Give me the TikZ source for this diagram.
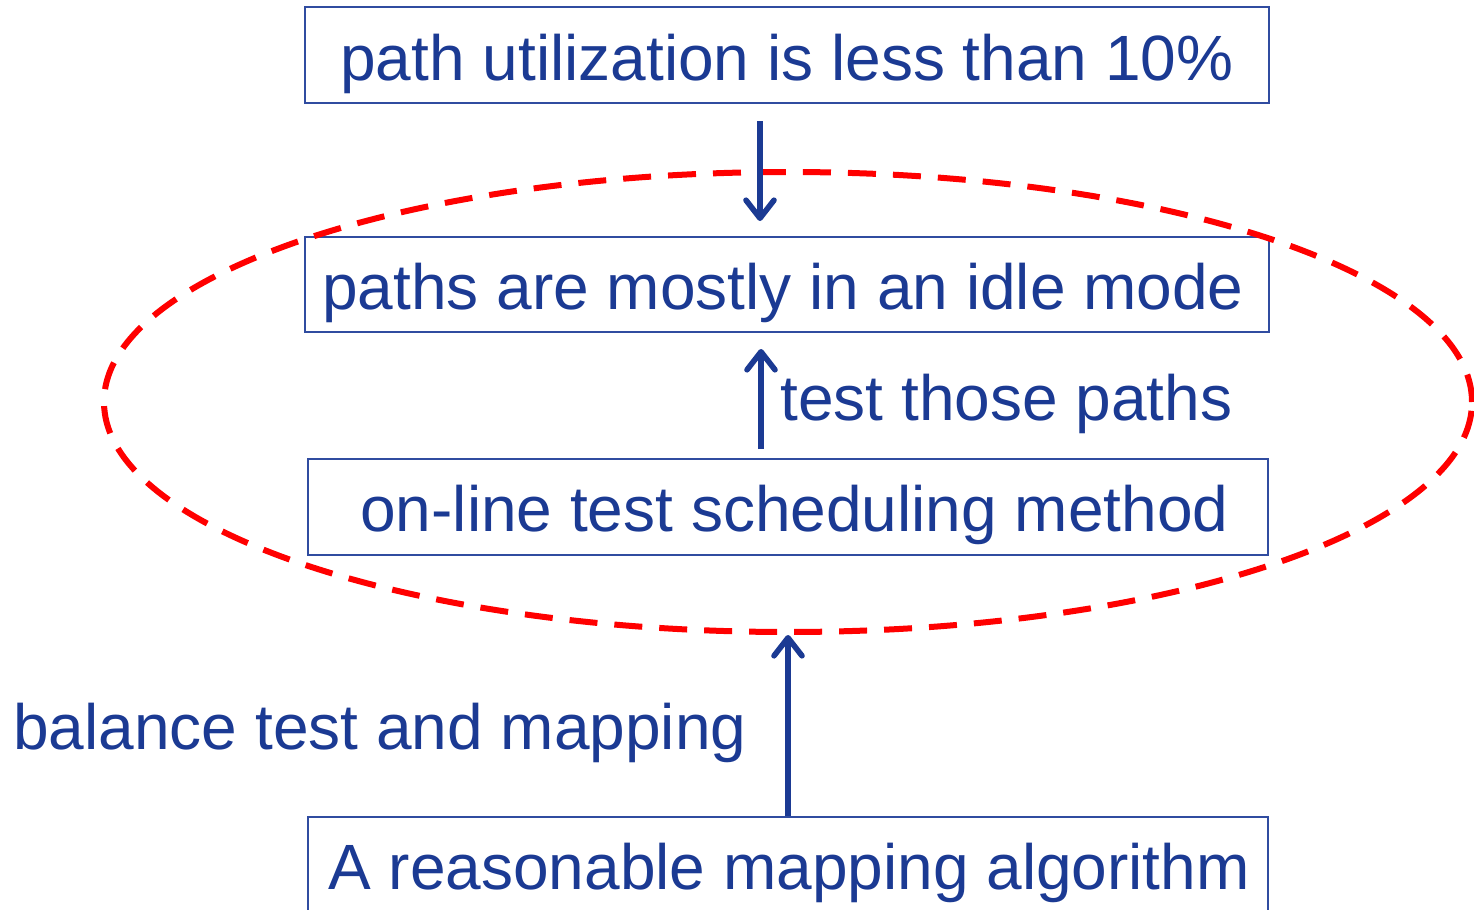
\documentclass[tikz,border=0pt]{standalone}
\usepackage{fontspec}
\setmainfont{Liberation Sans}
\usetikzlibrary{arrows.meta,shapes.geometric}
\definecolor{navy}{RGB}{27,58,147}
\definecolor{frame}{RGB}{48,76,160}
\definecolor{loopred}{RGB}{255,0,0}
\tikzset{
  box/.style={draw=frame, line width=1pt, inner sep=0pt, rectangle},
  txt/.style={text=navy, inner sep=0pt, anchor=base west,
    font=\fontsize{32}{38}\selectfont},
  arr/.style={draw=navy, line width=2.8pt,
    -{Straight Barb[length=9pt,width=14pt,round]}},
  loop/.style={draw=loopred, line width=3pt, ellipse, inner sep=0pt,
    dash pattern=on 14pt off 8.5pt}
}
\begin{document}
\begin{tikzpicture}[x=0.5pt,y=-0.5pt]
  \useasboundingbox (0,0) rectangle (1474,910);
  \clip (0,0) rectangle (1474,910);
  \fill[white] (0,0) rectangle (1474,910);

  % boxes
  \node[box, minimum width=482pt, minimum height=48pt] (b1) at (787,55) {};
  \node[box, minimum width=482pt, minimum height=47.5pt] (b2) at (787,284.5) {};
  \node[box, minimum width=480pt, minimum height=48pt] (b3) at (788,507) {};
  \node[box, minimum width=480pt, minimum height=48pt] (b4) at (788,865) {};

  % box texts
  \node[txt] (t1) at (340,80) {path utilization is less than 10\%};
  \node[txt] (t2) at (322,309) {paths are mostly in an idle mode};
  \node[txt] (t3) at (360,531) {on-line test scheduling method};
  \node[txt] (t4) at (328,889) {A reasonable mapping algorithm};

  % side labels
  \node[txt] (l1) at (780,420) {test those paths};
  \node[txt] (l2) at (13,749) {balance test and mapping};

  % dashed ellipse around the middle pair
  \node[loop, minimum width=684pt, minimum height=230pt] (e) at (788,402) {};

  % connectors
  \coordinate (x1) at (760,0);
  \coordinate (x2) at (761,0);
  \draw[arr, shorten <=8.5pt, shorten >=7.5pt] (b1.south -| x1) -- (b2.north -| x1);
  \draw[arr, shorten <=4.5pt, shorten >=8pt] (b3.north -| x2) -- (b2.south -| x2);
  \draw[arr] (b4.north -| e.south) -- (e.south);
\end{tikzpicture}
\end{document}
